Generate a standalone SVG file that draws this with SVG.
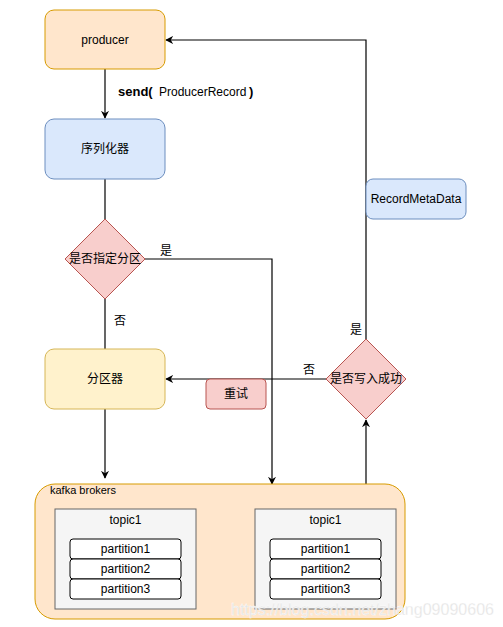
<svg xmlns="http://www.w3.org/2000/svg" width="503" height="627" viewBox="0 0 503 627">
<defs>
<marker id="arr" viewBox="0 0 10 10" refX="9" refY="5" markerWidth="8" markerHeight="8" markerUnits="userSpaceOnUse" orient="auto">
<path d="M0,0 L10,5 L0,10 L3,5 Z" fill="#000"/>
</marker>
<style>
text{font-family:"Liberation Sans","Noto Sans CJK SC",sans-serif;font-size:12px;fill:#000}
.c{text-anchor:middle;dominant-baseline:central}
.line{fill:none;stroke:#000;stroke-width:1.2}
.orange{fill:#ffe6cc;stroke:#d79b00}
.blue{fill:#dae8fc;stroke:#6c8ebf}
.red{fill:#f8cecc;stroke:#b85450}
.yellow{fill:#fff2cc;stroke:#d6b656}
.gray{fill:#f5f5f5;stroke:#666666}
.part{fill:#fff;stroke:#000}
</style>
</defs>
<rect width="503" height="627" fill="#fff"/>
<g id="connectors">
<path class="line" d="M105,69 V118" marker-end="url(#arr)"/>
<path class="line" d="M105,179 V219"/>
<path class="line" d="M145,259 H272 V484" marker-end="url(#arr)"/>
<path class="line" d="M105,299 V349"/>
<path class="line" d="M105,409 V478" marker-end="url(#arr)"/>
<path class="line" d="M326,379 H166" marker-end="url(#arr)"/>
<path class="line" d="M366,339 V40 H166" marker-end="url(#arr)"/>
<path class="line" d="M366,484 V420" marker-end="url(#arr)"/>
<text x="118" y="96" style="font-weight:bold;font-size:13px">send(</text>
<text x="159" y="96">ProducerRecord</text>
<text x="249" y="96" style="font-weight:bold;font-size:13px">)</text>
<text x="160" y="255">是</text>
<text x="114" y="325">否</text>
<text x="303" y="374">否</text>
<text x="350" y="334">是</text>
</g>
<g id="producer"><rect class="orange" x="45" y="10" width="120" height="59" rx="9"/><text class="c" x="105" y="40">producer</text></g>
<g id="serializer"><rect class="blue" x="45" y="119" width="120" height="60" rx="9"/><text class="c" x="105" y="149">序列化器</text></g>
<g id="decision-partition"><path class="red" d="M105,219 L145,259 L105,299 L65,259 Z"/><text class="c" x="105" y="259">是否指定分区</text></g>
<g id="partitioner"><rect class="yellow" x="45" y="349" width="120" height="60" rx="9"/><text class="c" x="105" y="379">分区器</text></g>
<g id="retry"><rect class="red" x="206" y="379" width="60" height="30" rx="4"/><text class="c" x="236" y="394">重试</text></g>
<g id="decision-success"><path class="red" d="M366,339 L406,379 L366,419 L326,379 Z"/><text class="c" x="366" y="379">是否写入成功</text></g>
<g id="recordmetadata"><rect class="blue" x="366" y="179" width="100" height="40" rx="7"/><text class="c" x="416" y="199">RecordMetaData</text></g>
<g id="kafka-brokers">
<rect class="orange" x="35" y="484" width="370" height="135" rx="20"/>
<text x="50" y="494" style="font-size:11px">kafka brokers</text>
</g>
<g id="topic-left">
<rect class="gray" x="55" y="509" width="141" height="100"/>
<text class="c" x="125.5" y="520">topic1</text>
<rect class="part" x="70" y="539" width="111" height="20" rx="3"/><text class="c" x="125.5" y="549">partition1</text>
<rect class="part" x="70" y="559" width="111" height="20" rx="3"/><text class="c" x="125.5" y="569">partition2</text>
<rect class="part" x="70" y="579" width="111" height="20" rx="3"/><text class="c" x="125.5" y="589">partition3</text>
</g>
<g id="topic-right">
<rect class="gray" x="255" y="509" width="141" height="100"/>
<text class="c" x="325.5" y="520">topic1</text>
<rect class="part" x="270" y="539" width="111" height="20" rx="3"/><text class="c" x="325.5" y="549">partition1</text>
<rect class="part" x="270" y="559" width="111" height="20" rx="3"/><text class="c" x="325.5" y="569">partition2</text>
<rect class="part" x="270" y="579" width="111" height="20" rx="3"/><text class="c" x="325.5" y="589">partition3</text>
</g>
<text x="231" y="615" textLength="263" lengthAdjust="spacingAndGlyphs" style="font-size:16px;fill:#e3e3e3;stroke:#ffffff;stroke-width:0.3">https://blog.csdn.net/zhang09090606</text>
</svg>
